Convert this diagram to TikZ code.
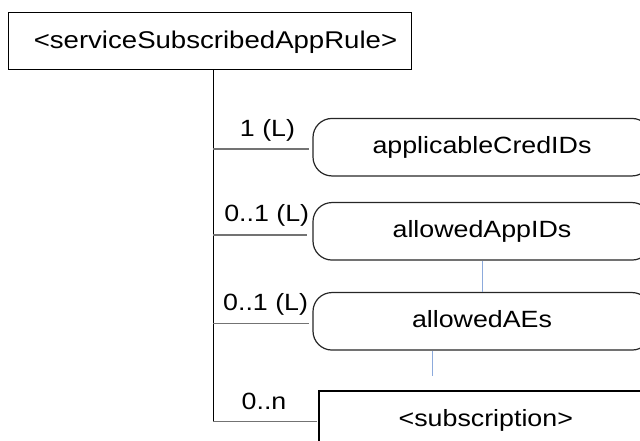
\documentclass[tikz,border=0pt]{standalone}
\usepackage{fontspec}
\setmainfont[FakeStretch=1.14]{Liberation Sans}
\begin{document}
\begin{tikzpicture}[x=1pt,y=-1pt,
  font=\fontsize{23.5}{28}\selectfont,
  topbox/.style={draw=black, line width=1.5pt, minimum width=403.4pt, minimum height=56.6pt, inner sep=0pt},
  toptext/.style={inner sep=0pt, font=\fontsize{24.2}{28}\selectfont, text height=17.6pt, text depth=4pt},
  attrbox/.style={draw=black!85, line width=1.2pt, rounded corners=19pt, minimum width=338pt, minimum height=57.5pt, inner sep=0pt, text height=17.2pt, text depth=4pt},
  childbox/.style={draw=black, line width=2pt, minimum width=333.6pt, minimum height=57.4pt, inner sep=0pt, text height=17.2pt, text depth=4pt},
  link/.style={draw=black!55, line width=1.3pt},
  spine/.style={draw=black, line width=1pt},
  bluelink/.style={draw={rgb,255:red,140;green,170;blue,220}, line width=1pt},
  card/.style={anchor=base, inner sep=0pt}]
\useasboundingbox (0,0) rectangle (640,441);
\clip (0,0) rectangle (640,441);
\node[topbox] (rule) at (210,41) {};
\node[toptext] (ruletext) at (215.5,41.5) {<serviceSubscribedAppRule>};
\node[attrbox] (cred) at (482,147.2) {applicableCredIDs};
\node[attrbox] (app) at (482,231.3) {allowedAppIDs};
\node[attrbox] (ae) at (482,321.3) {allowedAEs};
\node[childbox] (sub) at (485.8,419.4) {<subscription>};
\coordinate (spineend) at (213,422.4);
\draw[spine] (rule.south -| spineend) -- (spineend);
\draw[link] ([yshift=-1.8pt]cred.west -| spineend) -- ([xshift=-3pt,yshift=-1.8pt]cred.west);
\draw[link] ([yshift=-3.7pt]app.west -| spineend) -- ([xshift=-5pt,yshift=-3.7pt]app.west);
\draw[link] ([yshift=-2pt]ae.west -| spineend) -- ([xshift=-3pt,yshift=-2pt]ae.west);
\draw[link] ([yshift=-2.3pt]sub.west -| spineend) -- ([xshift=-1pt,yshift=-2.3pt]sub.west);
\node[card] (c1) at (267.5,136.7) {1 (L)};
\node[card] (c2) at (266.7,221.7) {0..1 (L)};
\node[card] (c3) at (265.6,310) {0..1 (L)};
\node[card] (c4) at (264,409.3) {0..n};
\draw[bluelink] (app.south) -- (ae.north);
\coordinate (aetail) at (432.3,376);
\draw[bluelink] (ae.south -| aetail) -- (aetail);
\end{tikzpicture}
\end{document}
